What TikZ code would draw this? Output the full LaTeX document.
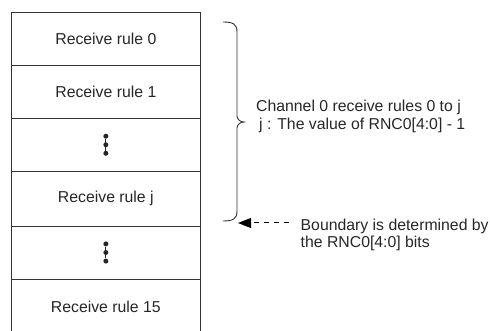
\documentclass[tikz,border=0pt]{standalone}
\usepackage{fontspec}
\setmainfont{Liberation Sans}
\usetikzlibrary{arrows.meta}
\begin{document}
\begin{tikzpicture}[x=1pt,y=-1pt,
  rowbox/.style={draw=black!80, line width=0.8pt, minimum width=188.3pt, inner sep=0pt,
    font=\fontsize{15.8}{17}\selectfont, text=black!85},
  lbl/.style={text=black!85, inner sep=0pt, align=left},
  rdot/.style={circle, fill=black!85, inner sep=0pt, minimum size=5pt}]
\useasboundingbox (0,0) rectangle (490,331);
% rows
\node[rowbox, minimum height=53pt] (r0) at (105.85,38.5) {Receive rule 0};
\node[rowbox, minimum height=53pt] (r1) at (105.85,91.5) {Receive rule 1};
\node[rowbox, minimum height=53.5pt] (rd1) at (105.85,144.75) {};
\node[rowbox, minimum height=54.5pt] (rj) at (105.85,198.75) {Receive rule j};
\node[rowbox, minimum height=53pt] (rd2) at (105.85,252.5) {};
\node[rowbox, draw=none, minimum height=56pt] (r15) at (105.85,307) {Receive rule 15};
\draw[draw=black!80, line width=0.8pt] (r15.north west) -- (r15.south west);
\draw[draw=black!80, line width=0.8pt] (r15.north east) -- (r15.south east);
% vertical dots
\node[rdot] (a1) at (105.85,136.2) {};
\node[rdot] (a2) at (105.85,144.75) {};
\node[rdot] (a3) at (105.85,153.3) {};
\draw[black!85, line width=0.8pt] (a1) -- (a3);
\node[rdot] (b1) at (105.85,243.9) {};
\node[rdot] (b2) at (105.85,252.5) {};
\node[rdot] (b3) at (105.85,261.1) {};
\draw[black!85, line width=0.8pt] (b1) -- (b3);
% brace
\draw[black!80, line width=0.9pt]
  (223,22) .. controls (233,22) and (237,24) .. (237,32) -- (237,116)
  .. controls (237,119) and (240,122) .. (244,122)
  .. controls (240,122) and (237,125) .. (237,128) -- (237,211)
  .. controls (237,219) and (233,221) .. (223,221);
% labels (base anchor = baseline of the last line)
\node[lbl, anchor=base west, font=\fontsize{15.8}{17.7}\selectfont] (ch) at (256,129.4)
  {Channel 0 receive rules 0 to j\\\hspace*{3pt}j : The value of RNC0[4:0] - 1};
\node[lbl, anchor=base west, font=\fontsize{15.8}{16.3}\selectfont] (bd) at (300.5,247.3)
  {Boundary is determined by\\the RNC0[4:0] bits};
% arrow
\coordinate (tip) at (238,223);
\coordinate (as) at (288.5,223);
\draw[black, line width=1pt, dash pattern=on 5pt off 5pt, -{Triangle[length=13pt,width=10pt]}] (as) -- (tip);
\end{tikzpicture}
\end{document}
